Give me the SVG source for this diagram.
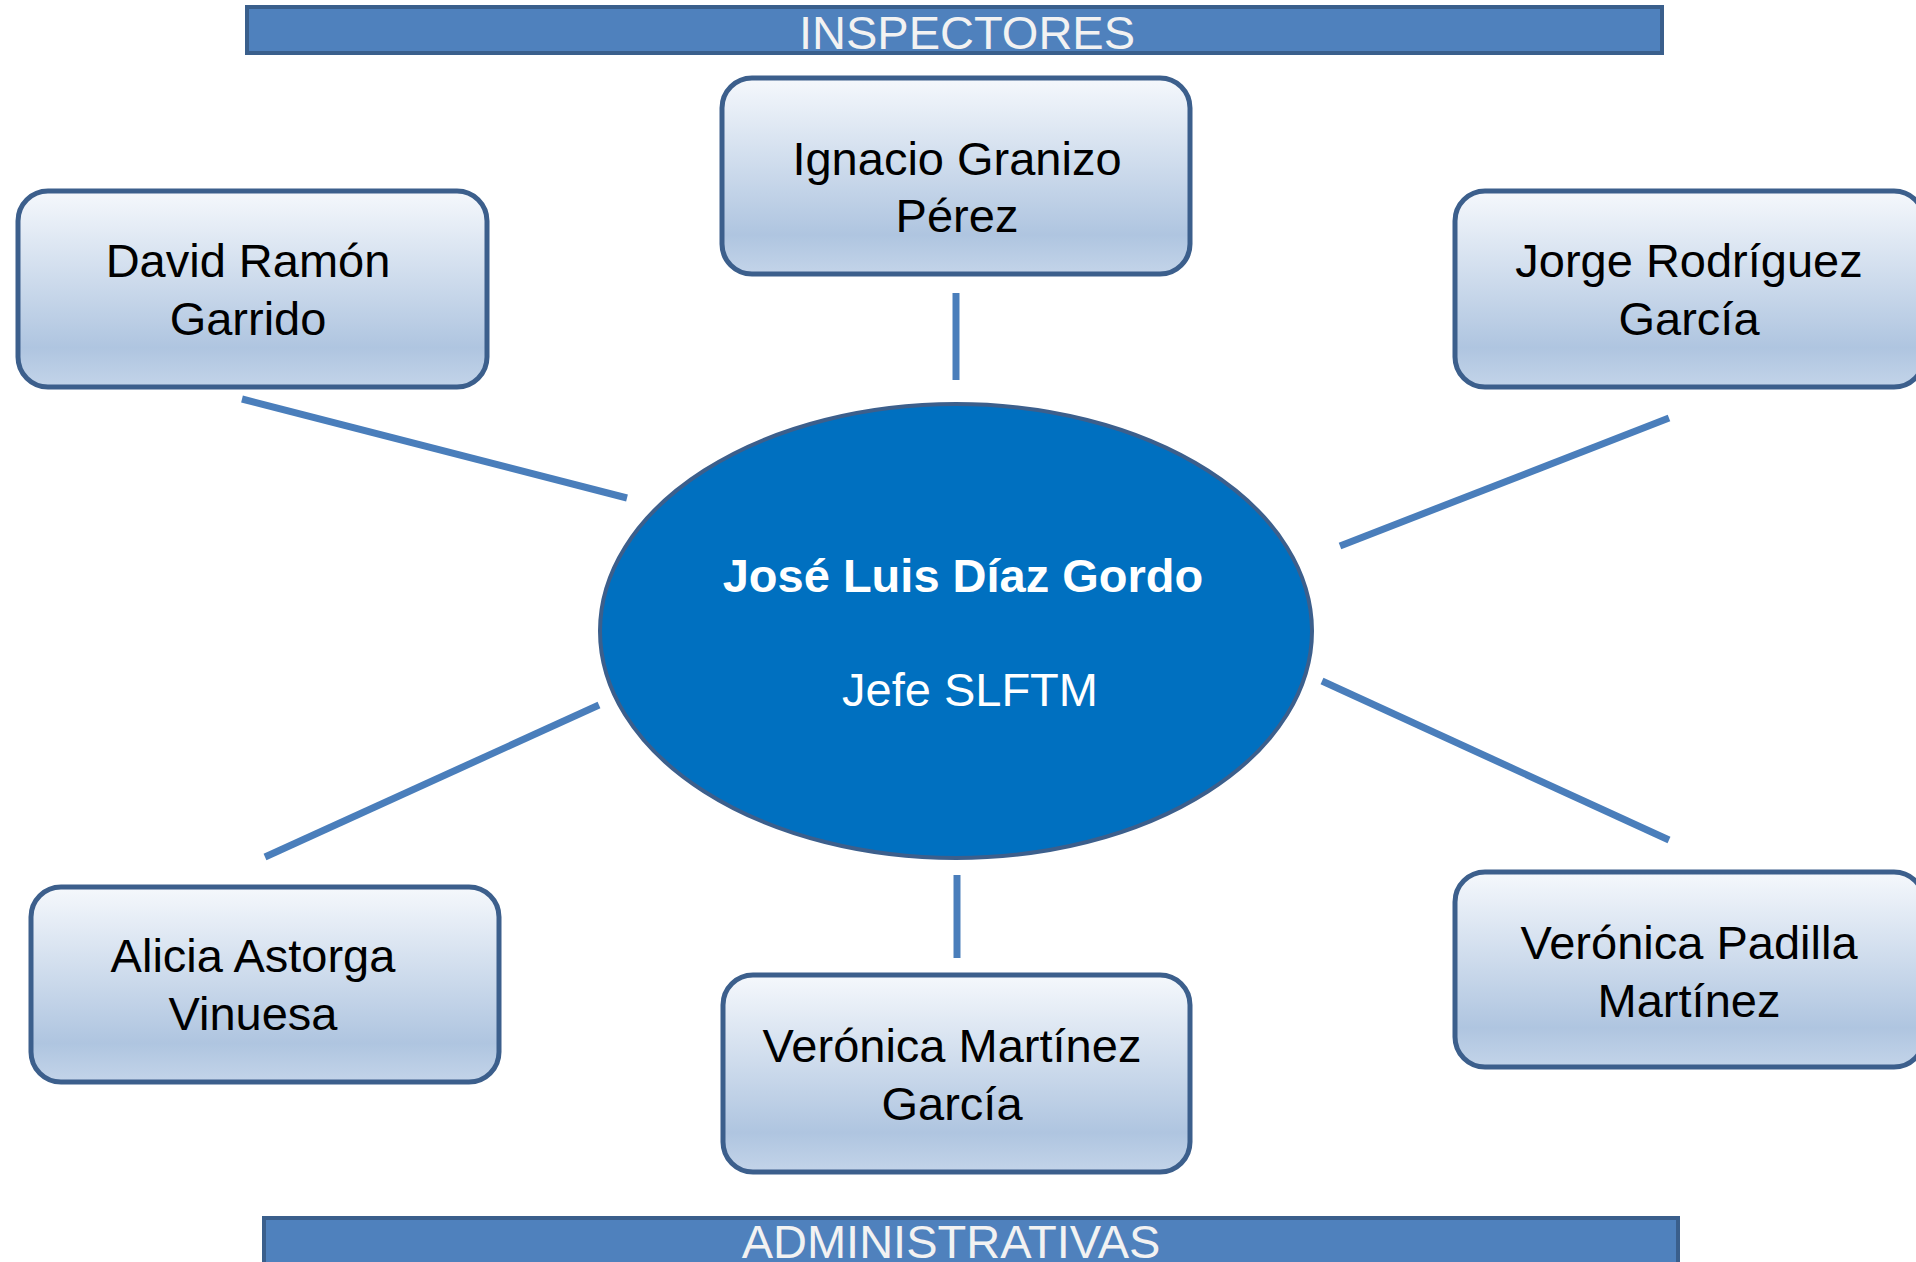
<svg xmlns="http://www.w3.org/2000/svg" width="1916" height="1262" viewBox="0 0 1916 1262">
<defs>
<linearGradient id="boxGrad" x1="0" y1="0" x2="0" y2="1">
<stop offset="0" stop-color="#F5F8FC"/>
<stop offset="0.8" stop-color="#AFC5E0"/>
<stop offset="1" stop-color="#C3D4E9"/>
</linearGradient>
<style>
.box{fill:url(#boxGrad);stroke:#3C5F8C;stroke-width:5}
.lbl{font-family:"Liberation Sans",Arial,sans-serif;font-size:47px;fill:#000;text-anchor:middle}
.bar{fill:#4F81BD;stroke:#3A5F8C;stroke-width:4}
.bartxt{font-family:"Liberation Sans",Arial,sans-serif;font-size:47px;fill:#F2F2F2;text-anchor:middle}
.conn{stroke:#4A7EBB;stroke-width:7;fill:none}
.ctr{font-family:"Liberation Sans",Arial,sans-serif;font-size:47px;fill:#FFFFFF;text-anchor:middle}
</style>
</defs>
<rect width="1916" height="1262" fill="#FFFFFF"/>

<g id="header-inspectores">
<rect class="bar" x="247" y="7" width="1415" height="46"/>
<text class="bartxt" x="967" y="49">INSPECTORES</text>
</g>

<g id="header-administrativas">
<rect class="bar" x="264" y="1218" width="1414" height="50"/>
<text class="bartxt" x="951" y="1258">ADMINISTRATIVAS</text>
</g>

<g id="connectors">
<line class="conn" x1="956" y1="293" x2="956" y2="380"/>
<line class="conn" x1="242" y1="399" x2="627" y2="498"/>
<line class="conn" x1="1669" y1="418" x2="1340" y2="546"/>
<line class="conn" x1="599" y1="705" x2="265" y2="857"/>
<line class="conn" x1="957" y1="875" x2="957" y2="958"/>
<line class="conn" x1="1322" y1="681" x2="1669" y2="840"/>
</g>

<g id="node-ignacio">
<rect class="box" x="722" y="78" width="468" height="196" rx="30"/>
<text class="lbl" x="957" y="175">Ignacio Granizo</text>
<text class="lbl" x="957" y="232">Pérez</text>
</g>

<g id="node-david">
<rect class="box" x="18" y="191" width="469" height="196" rx="30"/>
<text class="lbl" x="248" y="277">David Ramón</text>
<text class="lbl" x="248" y="335">Garrido</text>
</g>

<g id="node-jorge">
<rect class="box" x="1455" y="191" width="469" height="196" rx="30"/>
<text class="lbl" x="1689" y="277">Jorge Rodríguez</text>
<text class="lbl" x="1689" y="335">García</text>
</g>

<g id="node-jose">
<ellipse cx="956" cy="631" rx="356" ry="227" fill="#0070C0" stroke="#3C5F8C" stroke-width="4"/>
<text class="ctr" x="963" y="592" font-weight="bold" font-size="48">José Luis Díaz Gordo</text>
<text class="ctr" x="970" y="706">Jefe SLFTM</text>
</g>

<g id="node-alicia">
<rect class="box" x="31" y="887" width="468" height="195" rx="30"/>
<text class="lbl" x="253" y="972">Alicia Astorga</text>
<text class="lbl" x="253" y="1030">Vinuesa</text>
</g>

<g id="node-veronica-martinez">
<rect class="box" x="723" y="975" width="467" height="197" rx="30"/>
<text class="lbl" x="952" y="1062">Verónica Martínez</text>
<text class="lbl" x="952" y="1120">García</text>
</g>

<g id="node-veronica-padilla">
<rect class="box" x="1455" y="872" width="469" height="195" rx="30"/>
<text class="lbl" x="1689" y="959">Verónica Padilla</text>
<text class="lbl" x="1689" y="1017">Martínez</text>
</g>
</svg>
